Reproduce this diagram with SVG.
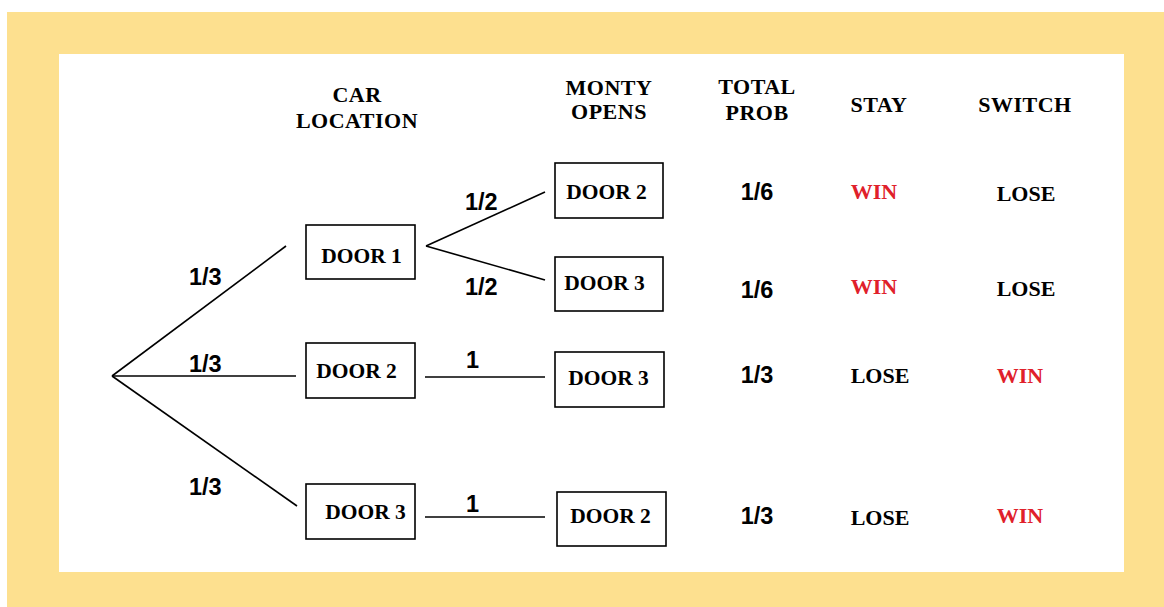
<svg xmlns="http://www.w3.org/2000/svg" width="1164" height="607" viewBox="0 0 1164 607">
<defs>
<style>
.box{fill:#fff;stroke:#000;stroke-width:1.6}
.ln{stroke:#000;stroke-width:1.6;fill:none}
.dt{font-family:"Liberation Serif",serif;font-weight:bold;font-size:21.5px;fill:#000;text-anchor:middle}
.hd{font-family:"Liberation Serif",serif;font-weight:bold;font-size:22px;fill:#000;text-anchor:middle;letter-spacing:0.5px}
.pr{font-family:"Liberation Sans",Arial,sans-serif;font-weight:bold;font-size:23.5px;fill:#000}
.prm{font-family:"Liberation Sans",Arial,sans-serif;font-weight:bold;font-size:23.5px;fill:#000;text-anchor:middle}
.res{font-family:"Liberation Serif",serif;font-weight:bold;font-size:22px;text-anchor:middle}
.win{fill:#e0202a}
.lose{fill:#000}
</style>
</defs>
<rect x="7" y="12" width="1157" height="595" fill="#fde08f"/>
<rect x="59" y="54" width="1065" height="518" fill="#ffffff"/>

<g id="headers">
<text class="hd" x="357" y="102">CAR</text>
<text class="hd" x="357" y="128">LOCATION</text>
<text class="hd" x="609" y="95">MONTY</text>
<text class="hd" x="609" y="119">OPENS</text>
<text class="hd" x="757" y="94">TOTAL</text>
<text class="hd" x="757" y="120">PROB</text>
<text class="hd" x="879" y="112">STAY</text>
<text class="hd" x="1025" y="112">SWITCH</text>
</g>

<g id="connectors">
<line class="ln" x1="112" y1="376" x2="286" y2="246"/>
<line class="ln" x1="112" y1="376" x2="296" y2="376"/>
<line class="ln" x1="112" y1="376" x2="297" y2="506"/>
<line class="ln" x1="426" y1="246" x2="545" y2="192"/>
<line class="ln" x1="426" y1="246" x2="545" y2="280"/>
<line class="ln" x1="425" y1="377" x2="545" y2="377"/>
<line class="ln" x1="425" y1="517" x2="545" y2="517"/>
<text class="pr" x="189" y="285">1/3</text>
<text class="pr" x="189" y="372">1/3</text>
<text class="pr" x="189" y="495">1/3</text>
<text class="pr" x="465" y="210">1/2</text>
<text class="pr" x="465" y="295">1/2</text>
<text class="pr" x="466" y="368">1</text>
<text class="pr" x="466" y="512">1</text>
</g>

<g id="car-door1">
<rect class="box" x="306" y="225" width="109" height="54"/>
<text class="dt" x="361.5" y="263">DOOR 1</text>
</g>
<g id="car-door2">
<rect class="box" x="306" y="343" width="109" height="55"/>
<text class="dt" x="356.5" y="378">DOOR 2</text>
</g>
<g id="car-door3">
<rect class="box" x="306" y="484" width="109" height="55"/>
<text class="dt" x="365.5" y="519">DOOR 3</text>
</g>
<g id="monty-a">
<rect class="box" x="555" y="163" width="108" height="55"/>
<text class="dt" x="606.5" y="199">DOOR 2</text>
</g>
<g id="monty-b">
<rect class="box" x="555" y="257" width="108" height="54"/>
<text class="dt" x="604.5" y="290">DOOR 3</text>
</g>
<g id="monty-c">
<rect class="box" x="555" y="352" width="109" height="55"/>
<text class="dt" x="608.5" y="385">DOOR 3</text>
</g>
<g id="monty-d">
<rect class="box" x="557" y="492" width="109" height="54"/>
<text class="dt" x="610.5" y="523">DOOR 2</text>
</g>

<g id="results">
<text class="prm" x="757" y="200">1/6</text>
<text class="res win" x="874" y="199">WIN</text>
<text class="res lose" x="1026" y="201">LOSE</text>
<text class="prm" x="757" y="298">1/6</text>
<text class="res win" x="874" y="294">WIN</text>
<text class="res lose" x="1026" y="296">LOSE</text>
<text class="prm" x="757" y="383">1/3</text>
<text class="res lose" x="880" y="383">LOSE</text>
<text class="res win" x="1020" y="383">WIN</text>
<text class="prm" x="757" y="524">1/3</text>
<text class="res lose" x="880" y="525">LOSE</text>
<text class="res win" x="1020" y="523">WIN</text>
</g>
</svg>
